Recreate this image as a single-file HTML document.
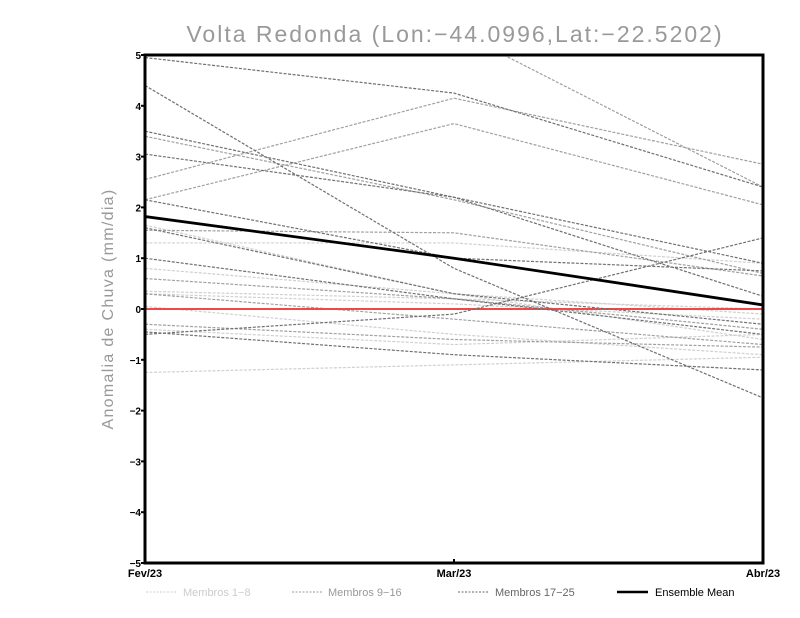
<!DOCTYPE html>
<html><head><meta charset="utf-8"><style>
body{margin:0;background:#fff;width:800px;height:618px;overflow:hidden}
svg{display:block;font-family:"Liberation Sans",sans-serif}
</style></head><body>
<svg id="chart" width="800" height="618" viewBox="0 0 800 618">
<text x="455" y="42" text-anchor="middle" font-size="23" fill="#999" letter-spacing="2">Volta Redonda (Lon:−44.0996,Lat:−22.5202)</text>
<text transform="translate(113,309) rotate(-90)" text-anchor="middle" font-size="16" fill="#999" letter-spacing="1.3">Anomalia de Chuva (mm/dia)</text>
<defs><clipPath id="clip"><rect x="145" y="55" width="618" height="508"/></clipPath></defs>
<g id="series" clip-path="url(#clip)"></g>
<g id="axes"></g>
<g font-size="11">
<g><line x1="146" y1="592" x2="177" y2="592" stroke="#ccc" stroke-dasharray="2,1.5"/><text x="183" y="596" fill="#ccc">Membros 1−8</text></g>
<g><line x1="292" y1="592" x2="322" y2="592" stroke="#999" stroke-dasharray="2,1.5"/><text x="328" y="596" fill="#999">Membros 9−16</text></g>
<g><line x1="458" y1="592" x2="488" y2="592" stroke="#666" stroke-dasharray="2,1.5"/><text x="495" y="596" fill="#666">Membros 17−25</text></g>
<g><line x1="617" y1="592" x2="648" y2="592" stroke="#000" stroke-width="2.5"/><text x="655" y="596" fill="#000">Ensemble Mean</text></g>
</g>
</svg>
<script>
const categories = ["Fev/23","Mar/23","Abr/23"];
const yTicks = [-5,-4,-3,-2,-1,0,1,2,3,4,5];
const light = [
 [1.3,1.3,0.9],[1.65,0.3,-0.6],[0.8,0.3,-0.1],[-1.25,-1.1,-0.95],
 [0.3,0.1,-0.2],[-0.4,-0.7,-0.5],[0.05,-0.5,-0.9],[0.35,0.2,0.0]
];
const medium = [
 [2.55,4.15,2.85],[2.15,3.65,2.05],[3.4,2.15,0.7],[1.55,1.5,0.65],
 [6.5,5.5,2.4],[0.3,-0.2,-0.7],[-0.3,-0.6,-0.75],[0.6,0.2,-0.4]
];
const dark = [
 [4.95,4.25,2.4],[4.4,0.8,-1.75],[3.5,2.2,0.9],[3.05,2.2,0.25],
 [2.15,1.0,0.75],[1.6,0.3,-0.3],[1.0,0.2,-0.5],[-0.5,-0.1,1.4],[-0.45,-0.9,-1.2]
];
const mean = [1.82,1.0,0.08];

const X0=145,X1=763,Y0=563,Y1=55;
const xs=i=>X0+(X1-X0)*i/(categories.length-1);
const ys=v=>Y0-(v+5)/10*(Y0-Y1);
const NS="http://www.w3.org/2000/svg";
const g=document.getElementById('series'), ax=document.getElementById('axes');
function mk(t,a,p){const e=document.createElementNS(NS,t);for(const k in a)e.setAttribute(k,a[k]);p.appendChild(e);return e;}
function pts(arr){return arr.map((v,i)=>xs(i)+','+ys(v)).join(' ');}
light.forEach((s,i)=>{const e=mk('polyline',{points:pts(s),fill:'none',stroke:'#d0d0d0','stroke-width':1.2,'stroke-dasharray':'3,1.5'},g);

});
medium.forEach((s,i)=>{const e=mk('polyline',{points:pts(s),fill:'none',stroke:'#a0a0a0','stroke-width':1.2,'stroke-dasharray':'3,1.5'},g);

});
const z=mk('line',{x1:X0,x2:X1,y1:ys(0),y2:ys(0),stroke:'#f04848','stroke-width':2},g);


dark.forEach((s,i)=>{const e=mk('polyline',{points:pts(s),fill:'none',stroke:'#707070','stroke-width':1.2,'stroke-dasharray':'3,1.5'},g);

});
const m=mk('polyline',{points:pts(mean),fill:'none',stroke:'#000','stroke-width':2.8},g);


const fr=mk('rect',{x:X0,y:Y1,width:X1-X0,height:Y0-Y1,fill:'none',stroke:'#000','stroke-width':3},ax);


yTicks.forEach(v=>{const y=ys(v);
mk('line',{x1:X0-4,x2:X0,y1:y,y2:y,stroke:'#000','stroke-width':2},ax);
const t=mk('text',{x:X0-4,y:y+4,'text-anchor':'end','font-size':10,'font-weight':'bold'},ax);
t.textContent=v<0?'−'+(-v):String(v);

});
categories.forEach((c,i)=>{const x=xs(i);
mk('line',{x1:x,x2:x,y1:Y0,y2:Y0-4,stroke:'#000','stroke-width':2},ax);
const t=mk('text',{x:x,y:577,'text-anchor':'middle','font-size':11,'font-weight':'bold'},ax);
t.textContent=c;

});
</script>
</body></html>
